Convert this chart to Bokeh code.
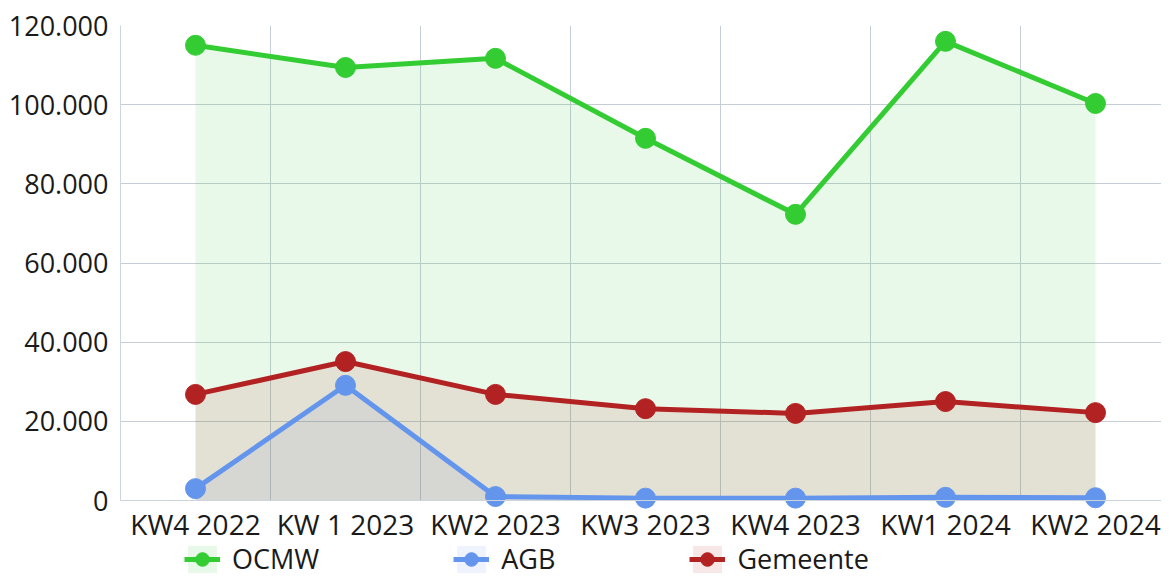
import numpy as np
from bokeh.plotting import figure
from bokeh.models import (FixedTicker, CustomJSTickFormatter, Range1d, Legend, LegendItem,
                          ColumnDataSource)
from bokeh.embed import file_html
from bokeh.resources import INLINE

categories = ["KW4 2022", "KW 1 2023", "KW2 2023", "KW3 2023", "KW4 2023", "KW1 2024", "KW2 2024"]
ocmw = [115000, 109400, 111700, 91500, 72300, 116000, 100300]
agb = [3000, 29100, 1000, 600, 600, 800, 700]
gemeente = [26800, 35100, 26800, 23200, 22000, 25000, 22200]
y_ticks = [0, 20000, 40000, 60000, 80000, 100000, 120000]

series = [("OCMW", ocmw, "#33cc33"), ("AGB", agb, "#6495ed"), ("Gemeente", gemeente, "#b22222")]

xs = list(np.arange(len(categories)) + 0.5)
FONT = "Open Sans"
FS = "27px"
GRID = "#c5ced6"

W, H = 1161, 576
LEFT, TOP = 120, 25
DATA_H = 475                      # pixels used by 0 .. y_max
FRAME_W = W - LEFT
FRAME_H = H - TOP
y_max = y_ticks[-1]
y_min = -y_max * (FRAME_H - DATA_H) / DATA_H   # room below 0 for labels and legend

p = figure(output_backend="svg", toolbar_location=None,
           width=W, height=H, frame_width=FRAME_W, frame_height=FRAME_H,
           min_border_left=LEFT, min_border_top=TOP, min_border_right=0, min_border_bottom=0,
           x_range=Range1d(0, FRAME_W / 150), y_range=Range1d(y_min, y_max))
p.outline_line_color = None
p.background_fill_color = "white"
p.border_fill_color = "white"

# vertical separators between categories (only over the data area)
bounds = list(range(1, len(categories) + 1))
p.segment(x0=bounds, y0=[0] * len(bounds), x1=bounds, y1=[y_max] * len(bounds),
          line_color=GRID, line_width=1)

src = ColumnDataSource(dict(x=xs, ocmw=ocmw, agb=agb, gemeente=gemeente,
                            zero=[0] * len(xs)))

areas, lines, dots = {}, {}, {}
for name, vals, col in series:
    key = name.lower()
    areas[name] = p.varea(x="x", y1="zero", y2=key, source=src, fill_color=col, fill_alpha=0.11)
for name, vals, col in series:
    key = name.lower()
    lines[name] = p.line(x="x", y=key, source=src, line_color=col, line_width=5)
    dots[name] = p.scatter(x="x", y=key, source=src, size=20, fill_color=col, line_color=col)

# axes
p.xaxis.fixed_location = 0
p.xaxis.ticker = FixedTicker(ticks=xs)
p.xaxis.major_label_overrides = {float(x): c for x, c in zip(xs, categories)}
p.yaxis.ticker = FixedTicker(ticks=y_ticks)
p.yaxis.bounds = (0, y_max)
p.yaxis.formatter = CustomJSTickFormatter(
    code="return Math.round(tick).toString().replace(/\\B(?=(\\d{3})+(?!\\d))/g, '.');")
for ax in (p.xaxis[0], p.yaxis[0]):
    ax.major_tick_line_color = None
    ax.minor_tick_line_color = None
    ax.major_tick_out = 0
    ax.axis_line_color = "#ccd4dc"
    ax.major_label_text_font = FONT
    ax.major_label_text_font_size = FS
    ax.major_label_text_color = "#1a1a1a"
p.xaxis.major_label_text_font_size = "28px"
p.yaxis.major_label_standoff = 12
p.xaxis.major_label_standoff = 4

p.xgrid.visible = False
p.ygrid.ticker = FixedTicker(ticks=y_ticks)
p.ygrid.grid_line_color = GRID

legend = Legend(items=[LegendItem(label=name, renderers=[areas[name], lines[name], dots[name]])
                       for name, vals, col in series],
                location=(64, -1), orientation="horizontal",
                padding=0, margin=0, spacing=134,
                border_line_alpha=0, background_fill_alpha=0,
                glyph_width=36, glyph_height=34, label_standoff=12,
                label_text_font=FONT, label_text_font_size=FS,
                label_text_color="#1a1a1a")
p.add_layout(legend, "center")

open("out.html", "w").write(file_html(p, INLINE))
